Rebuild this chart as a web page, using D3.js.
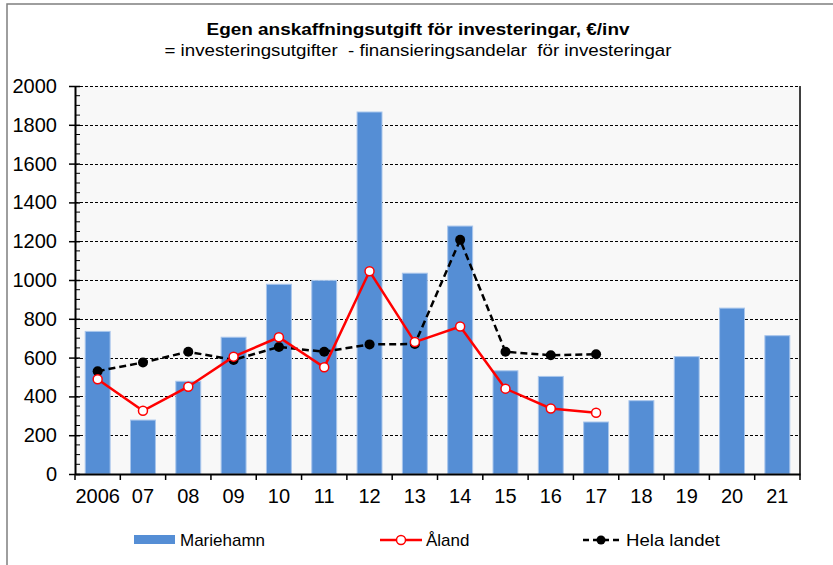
<!DOCTYPE html>
<html>
<head>
<meta charset="utf-8">
<script src="https://cdn.jsdelivr.net/npm/d3@7"></script>
<style>
  html, body { margin: 0; padding: 0; background: #ffffff; }
  svg { display: block; }
  text { font-family: "Liberation Sans", Arial, sans-serif; fill: #000; }
</style>
</head>
<body>
<script>
const years = ["2006","07","08","09","10","11","12","13","14","15","16","17","18","19","20","21"];
const mariehamn = [735, 278, 478, 705, 978, 998, 1866, 1035, 1278, 532, 503, 268, 378, 605, 855, 713];
const aland = [488, 326, 450, 605, 705, 550, 1045, 680, 760, 440, 338, 316, null, null, null, null];
const helaLandet = [530, 575, 630, 588, 655, 630, 668, 670, 1207, 630, 612, 617, null, null, null, null];
const yTicks = [0, 200, 400, 600, 800, 1000, 1200, 1400, 1600, 1800, 2000];
const title = "Egen anskaffningsutgift för investeringar, €/inv";
const subtitle = "= investeringsutgifter  - finansieringsandelar  för investeringar";
const legendNames = ["Mariehamn", "Åland", "Hela landet"];

(function () {
const W = 833, H = 565;
const svg = d3.select("body").append("svg").attr("width", W).attr("height", H);

// outer frame
svg.append("rect").attr("x", 7).attr("y", 4).attr("width", 860).attr("height", 600)
  .attr("fill", "none").attr("stroke", "#7f7f7f").attr("stroke-width", 1.5);

const pL = 75, pR = 800, pT = 86, pB = 474;
const x = d3.scaleBand().domain(years).range([pL, pR]).padding(0);
const y = d3.scaleLinear().domain([0, 2000]).range([pB, pT]);

// plot background
svg.append("rect").attr("x", pL).attr("y", pT).attr("width", pR - pL).attr("height", pB - pT)
  .attr("fill", "#f8f8f8");

// gridlines
svg.append("g").selectAll("line").data(yTicks.filter(d => d > 0)).join("line")
  .attr("x1", pL).attr("x2", pR)
  .attr("y1", d => Math.round(y(d)) + 0.5).attr("y2", d => Math.round(y(d)) + 0.5)
  .attr("stroke", "#000").attr("stroke-width", 1).attr("stroke-dasharray", "3,2");

// right border of plot
svg.append("line").attr("x1", pR).attr("x2", pR).attr("y1", pT).attr("y2", pB)
  .attr("stroke", "#404040").attr("stroke-width", 2);

// bars
const bw = x.bandwidth() * 0.55;
svg.append("g").selectAll("rect").data(mariehamn).join("rect")
  .attr("x", (d, i) => x(years[i]) + (x.bandwidth() - bw) / 2)
  .attr("y", d => y(d))
  .attr("width", bw)
  .attr("height", d => y(0) - y(d))
  .attr("fill", "#558ed5")
  .attr("stroke", "#a9c6ec").attr("stroke-width", 1);

// y axis with minor ticks
const yMinor = d3.range(0, 2001, 50).filter(v => v % 200 !== 0);
svg.append("g").selectAll("line").data(yMinor).join("line")
  .attr("x1", pL).attr("x2", pL + 5)
  .attr("y1", d => y(d)).attr("y2", d => y(d))
  .attr("stroke", "#000").attr("stroke-width", 1);
const yAxis = d3.axisLeft(y).tickValues(yTicks).tickFormat(d3.format("d"))
  .tickSizeInner(6).tickSizeOuter(0).tickPadding(12);
const gy = svg.append("g").attr("transform", `translate(${pL},0)`).call(yAxis);
gy.select(".domain").attr("stroke", "#000").attr("stroke-width", 2);
gy.selectAll(".tick line").attr("x2", -6).attr("x1", 5).attr("stroke-width", 1.5);
gy.selectAll(".tick text").style("font-size", "20px").style("font-family", "Liberation Sans, Arial, sans-serif");

// x axis
const xAxis = d3.axisBottom(x).tickSize(0).tickPadding(15);
const gx = svg.append("g").attr("transform", `translate(0,${pB})`).call(xAxis);
gx.select(".domain").attr("stroke", "#000").attr("stroke-width", 2);
gx.selectAll(".tick text").style("font-size", "20px").style("font-family", "Liberation Sans, Arial, sans-serif");
const edges = years.map(d => x(d)).concat([pR]);
svg.append("g").selectAll("line").data(edges).join("line")
  .attr("x1", d => d).attr("x2", d => d).attr("y1", pB).attr("y2", pB + 6)
  .attr("stroke", "#000").attr("stroke-width", 1.5);

const cx = i => x(years[i]) + x.bandwidth() / 2;
const line = d3.line().defined(d => d != null).x((d, i) => cx(i)).y(d => y(d));

// Hela landet
svg.append("path").datum(helaLandet).attr("d", line)
  .attr("fill", "none").attr("stroke", "#000").attr("stroke-width", 2.5).attr("stroke-dasharray", "7,4");
svg.append("g").selectAll("circle").data(helaLandet.map((v, i) => [v, i]).filter(d => d[0] != null)).join("circle")
  .attr("cx", d => cx(d[1])).attr("cy", d => y(d[0])).attr("r", 5).attr("fill", "#000");

// Åland
svg.append("path").datum(aland).attr("d", line)
  .attr("fill", "none").attr("stroke", "#ff0000").attr("stroke-width", 2.5);
svg.append("g").selectAll("circle").data(aland.map((v, i) => [v, i]).filter(d => d[0] != null)).join("circle")
  .attr("cx", d => cx(d[1])).attr("cy", d => y(d[0])).attr("r", 4.5)
  .attr("fill", "#fff").attr("stroke", "#ff0000").attr("stroke-width", 1.5);

// titles
svg.append("text").attr("x", 418).attr("y", 35).attr("text-anchor", "middle")
  .style("font-size", "17px").style("font-weight", "bold")
  .attr("textLength", 423).attr("lengthAdjust", "spacingAndGlyphs").text(title);
svg.append("text").attr("x", 418).attr("y", 56).attr("text-anchor", "middle")
  .style("font-size", "16px").style("white-space", "pre")
  .attr("textLength", 507).attr("lengthAdjust", "spacingAndGlyphs").text(subtitle);

// legend
const ly = 540;
const lg = svg.append("g");
lg.append("rect").attr("x", 134).attr("y", ly - 5).attr("width", 41).attr("height", 9).attr("fill", "#558ed5");
lg.append("text").attr("x", 180).attr("y", ly + 6).style("font-size", "17px").text(legendNames[0]);

lg.append("line").attr("x1", 380).attr("x2", 422).attr("y1", ly).attr("y2", ly)
  .attr("stroke", "#ff0000").attr("stroke-width", 2.5);
lg.append("circle").attr("cx", 401).attr("cy", ly).attr("r", 4.5)
  .attr("fill", "#fff").attr("stroke", "#ff0000").attr("stroke-width", 1.5);
lg.append("text").attr("x", 426).attr("y", ly + 6).style("font-size", "17px").text(legendNames[1]);

lg.append("line").attr("x1", 583).attr("x2", 620).attr("y1", ly).attr("y2", ly)
  .attr("stroke", "#000").attr("stroke-width", 2.5).attr("stroke-dasharray", "6,4");
lg.append("circle").attr("cx", 601).attr("cy", ly).attr("r", 4.5).attr("fill", "#000");
lg.append("text").attr("x", 626).attr("y", ly + 6).style("font-size", "17px")
  .attr("textLength", 94).attr("lengthAdjust", "spacingAndGlyphs").text(legendNames[2]);
})();
</script>
</body>
</html>
